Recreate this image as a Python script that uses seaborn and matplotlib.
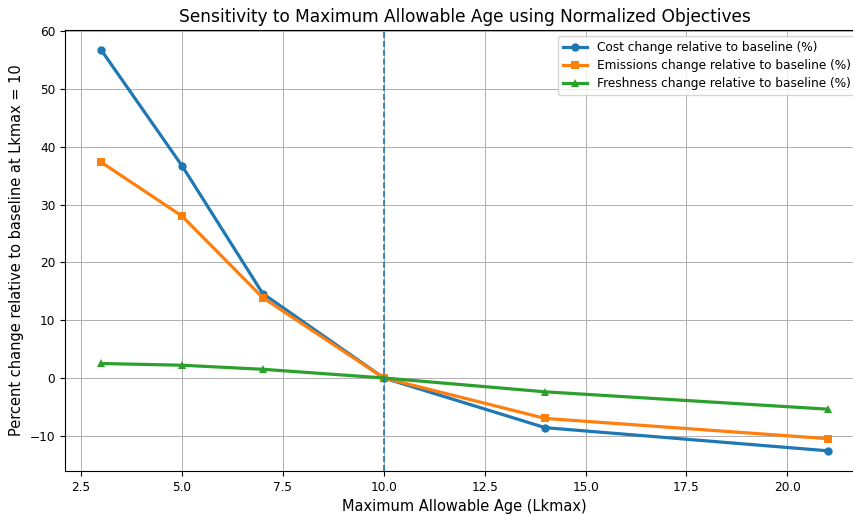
import matplotlib
matplotlib.use("Agg")
import matplotlib.pyplot as plt
import seaborn as sns
import pandas as pd

lkmax = [3, 5, 7, 10, 14, 21]
cost = [56.7, 36.7, 14.6, 0.0, -8.6, -12.6]
emissions = [37.3, 28.0, 13.9, 0.0, -7.0, -10.5]
freshness = [2.5, 2.2, 1.5, 0.0, -2.4, -5.4]
baseline = 10

labels = ["Cost change relative to baseline (%)",
          "Emissions change relative to baseline (%)",
          "Freshness change relative to baseline (%)"]
markers = ["o", "s", "^"]
colors = ["#1f77b4", "#ff7f0e", "#2ca02c"]

fig, ax = plt.subplots(figsize=(8.54, 5.14), dpi=100)
fig.subplots_adjust(left=0.0761, right=1.0117, top=0.9414, bottom=0.084)

for vals, lab, m, c in zip([cost, emissions, freshness], labels, markers, colors):
    df = pd.DataFrame({"x": lkmax, "y": vals})
    sns.lineplot(data=df, x="x", y="y", ax=ax, marker=m, color=c, linewidth=2.3,
                 markersize=6, markeredgewidth=0, label=lab)

ax.axvline(baseline, linestyle="--", color="#1f77b4", linewidth=1.2)
ax.grid(True, color="#b0b0b0", linewidth=0.7)
ax.set_title("Sensitivity to Maximum Allowable Age using Normalized Objectives", fontsize=12.25)
ax.set_xlabel("Maximum Allowable Age (Lkmax)", fontsize=10.5)
ax.set_ylabel("Percent change relative to baseline at Lkmax = 10", fontsize=10.5)
ax.tick_params(labelsize=8.75)
ax.legend(loc="upper right", fontsize=8.75, bbox_to_anchor=(0.997, 1.0), labelspacing=0.4)
fig.savefig("out.png", dpi=100)
